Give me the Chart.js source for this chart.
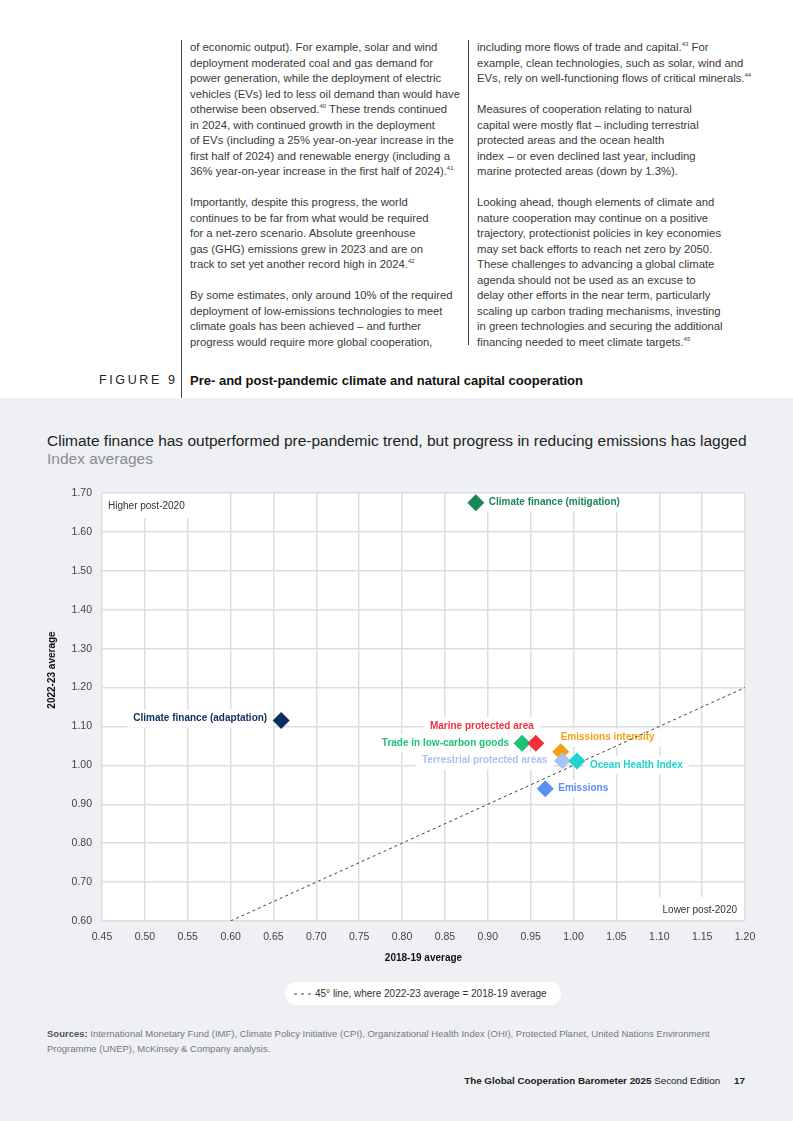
<!DOCTYPE html>
<html><head><meta charset="utf-8">
<script src="https://cdn.jsdelivr.net/npm/chart.js@4/dist/chart.umd.min.js"></script>
<style>
html,body{margin:0;padding:0;}
body{width:793px;height:1121px;position:relative;background:#fff;font-family:"Liberation Sans",Arial,sans-serif;color:#333;overflow:hidden;}
.gray{position:absolute;left:0;top:398px;width:793px;height:723px;background:#eef0f3;}
.vline{position:absolute;width:1px;background:#444;}
.col{position:absolute;top:40px;font-size:11.3px;line-height:15.5px;color:#3a3a3a;white-space:nowrap;}
.col sup{font-size:6px;line-height:0;vertical-align:baseline;position:relative;top:-5px;}
.fig{position:absolute;top:373px;left:99px;font-size:12.5px;letter-spacing:2.6px;color:#222;white-space:nowrap;}
.figt{position:absolute;top:373px;left:190px;font-size:13px;font-weight:bold;color:#111;white-space:nowrap;}
.title{position:absolute;left:47px;top:432px;font-size:15.5px;line-height:18px;color:#222;white-space:nowrap;}
.title .sub{color:#8a8c90;}
#wrap{position:absolute;left:0;top:470px;width:793px;height:510px;}
.legend{position:absolute;left:285px;top:982px;width:276px;height:23px;background:#fff;border-radius:12px;font-size:10px;color:#333;line-height:23px;white-space:nowrap;}
.legend svg{vertical-align:middle;margin:0 4px 0 9px;}
.src{position:absolute;left:47px;top:1026px;font-size:9.5px;line-height:15px;color:#76787d;white-space:nowrap;}
.src b{color:#555;}
.foot{position:absolute;right:48px;top:1075px;font-size:9.8px;color:#222;white-space:nowrap;}
.foot .n{margin-left:14px;font-weight:bold;}
</style></head>
<body>
<div class="gray"></div>
<div class="vline" style="left:181px;top:40px;height:358px;"></div>
<div class="vline" style="left:468px;top:40px;height:305px;"></div>
<div class="col" style="left:190px;">
of economic output). For example, solar and wind<br>
deployment moderated coal and gas demand for<br>
power generation, while the deployment of electric<br>
vehicles (EVs) led to less oil demand than would have<br>
otherwise been observed.<sup>40</sup> These trends continued<br>
in 2024, with continued growth in the deployment<br>
of EVs (including a 25% year-on-year increase in the<br>
first half of 2024) and renewable energy (including a<br>
36% year-on-year increase in the first half of 2024).<sup>41</sup><br>
<br>
Importantly, despite this progress, the world<br>
continues to be far from what would be required<br>
for a net-zero scenario. Absolute greenhouse<br>
gas (GHG) emissions grew in 2023 and are on<br>
track to set yet another record high in 2024.<sup>42</sup><br>
<br>
By some estimates, only around 10% of the required<br>
deployment of low-emissions technologies to meet<br>
climate goals has been achieved – and further<br>
progress would require more global cooperation,
</div>
<div class="col" style="left:477px;">
including more flows of trade and capital.<sup>43</sup> For<br>
example, clean technologies, such as solar, wind and<br>
EVs, rely on well-functioning flows of critical minerals.<sup>44</sup><br>
<br>
Measures of cooperation relating to natural<br>
capital were mostly flat – including terrestrial<br>
protected areas and the ocean health<br>
index – or even declined last year, including<br>
marine protected areas (down by 1.3%).<br>
<br>
Looking ahead, though elements of climate and<br>
nature cooperation may continue on a positive<br>
trajectory, protectionist policies in key economies<br>
may set back efforts to reach net zero by 2050.<br>
These challenges to advancing a global climate<br>
agenda should not be used as an excuse to<br>
delay other efforts in the near term, particularly<br>
scaling up carbon trading mechanisms, investing<br>
in green technologies and securing the additional<br>
financing needed to meet climate targets.<sup>45</sup>
</div>
<div class="fig">FIGURE 9</div>
<div class="figt">Pre- and post-pandemic climate and natural capital cooperation</div>
<div class="title">Climate finance has outperformed pre-pandemic trend, but progress in reducing emissions has lagged<br><span class="sub">Index averages</span></div>
<div id="wrap"><canvas id="c" width="793" height="510"></canvas></div>
<div class="legend"><svg width="17" height="4"><line x1="0" y1="2" x2="17" y2="2" stroke="#444" stroke-width="1.2" stroke-dasharray="3,4"/></svg>45° line, where 2022-23 average = 2018-19 average</div>
<div class="src"><b>Sources:</b> International Monetary Fund (IMF), Climate Policy Initiative (CPI), Organizational Health Index (OHI), Protected Planet, United Nations Environment<br>Programme (UNEP), McKinsey &amp; Company analysis.</div>
<div class="foot"><b>The Global Cooperation Barometer 2025</b> Second Edition<span class="n">17</span></div>
<script>
// ---- data ----
const names = ["Climate finance (mitigation)","Climate finance (adaptation)","Trade in low-carbon goods","Marine protected area","Emissions intensity","Terrestrial protected areas","Ocean Health Index","Emissions"];
const avg2018_19 = [0.886, 0.659, 0.940, 0.956, 0.985, 0.987, 1.004, 0.967];
const avg2022_23 = [1.675, 1.115, 1.057, 1.057, 1.035, 1.012, 1.011, 0.940];
const colors = ["#1b8755","#0c2e5c","#1fc178","#f0313e","#f5a014","#a8c3f3","#1ed4cf","#5a8ef2"];
const xTickValues = [0.45,0.50,0.55,0.60,0.65,0.70,0.75,0.80,0.85,0.90,0.95,1.00,1.05,1.10,1.15,1.20];
const yTickValues = [0.60,0.70,0.80,0.90,1.00,1.10,1.20,1.30,1.40,1.50,1.60,1.70];
const lineX = [0.60, 1.20];
const lineY = [0.60, 1.20];
// label placement relative to marker: side, dx, dy (px)
const labelPlace = [
  {side:"right",dx:13,dy:0},{side:"left",dx:-14,dy:-2},{side:"left",dx:-13,dy:0},{side:"left",dx:-2,dy:-17},
  {side:"right",dx:0,dy:-14},{side:"left",dx:-15,dy:0},{side:"right",dx:13,dy:4},{side:"right",dx:13,dy:0}
];
const FONT = '"Liberation Sans", Arial, sans-serif';

const labelPlugin = {
  id:'labels',
  beforeDatasetsDraw(chart){
    const {ctx, scales:{x,y}, chartArea:ca} = chart;
    ctx.save();
    ctx.textBaseline='middle';
    ctx.font = '10px '+FONT;
    ctx.fillStyle='#fff';
    let w1 = ctx.measureText('Higher post-2020').width;
    ctx.fillRect(ca.left+1, ca.top+1, w1+18, 24);
    let w2 = ctx.measureText('Lower post-2020').width;
    ctx.fillRect(ca.right-w2-14, ca.bottom-24, w2+13, 23);
    ctx.fillStyle='#333';
    ctx.fillText('Higher post-2020', ca.left+6, ca.top+13);
    ctx.fillText('Lower post-2020', ca.right-w2-8, ca.bottom-10.5);
    ctx.font = 'bold 10px '+FONT;
    const pos = names.map((n,i)=>{
      const px = x.getPixelForValue(avg2018_19[i]), py = y.getPixelForValue(avg2022_23[i]);
      const p = labelPlace[i];
      const w = ctx.measureText(n).width;
      const tx = p.side==='right' ? px+p.dx : px+p.dx-w;
      return {tx, ty:py+p.dy, w};
    });
    ctx.fillStyle='#fff';
    pos.forEach(p=>ctx.fillRect(p.tx-6, p.ty-9, p.w+12, 18));
    pos.forEach((p,i)=>{ctx.fillStyle=colors[i]; ctx.fillText(names[i], p.tx, p.ty);});
    ctx.restore();
  },
  afterDraw(chart){
    const {ctx, chartArea:ca} = chart;
    ctx.save();
    ctx.font = 'bold 10px '+FONT;
    ctx.fillStyle='#111';
    ctx.textAlign='center';
    ctx.textBaseline='middle';
    ctx.fillText('2018-19 average', (ca.left+ca.right)/2, 488);
    ctx.translate(52, 200);
    ctx.rotate(-Math.PI/2);
    ctx.fillText('2022-23 average', 0, 0);
    ctx.restore();
  }
};

new Chart(document.getElementById('c'), {
  type:'scatter',
  data:{datasets:[
    {data: names.map((n,i)=>({x:avg2018_19[i], y:avg2022_23[i]})),
     pointStyle:'rectRot', pointRadius:8.5, pointHoverRadius:8.5, borderWidth:0,
     pointBackgroundColor: colors, pointBorderColor: colors, order:0},
    {type:'line', data: lineX.map((v,i)=>({x:v, y:lineY[i]})), borderColor:'#444', borderWidth:1,
     borderDash:[3,3], pointRadius:0, fill:false, order:1}
  ]},
  options:{
    responsive:false, animation:false, events:[],
    layout:{padding:{left:42, right:48, top:23, bottom:29}},
    plugins:{legend:{display:false}, tooltip:{enabled:false}},
    scales:{
      x:{type:'linear', min:0.45, max:1.20,
        afterBuildTicks:s=>{s.ticks = xTickValues.map(v=>({value:v}));},
        afterFit:s=>{s.height=30; s.paddingLeft=0; s.paddingRight=0;},
        grid:{color:'#dcdde1', lineWidth:1.5, drawTicks:false},
        border:{display:false},
        ticks:{padding:10, maxRotation:0, autoSkip:false, color:'#444', font:{family:FONT, size:10.5}, callback:v=>v.toFixed(2)}
      },
      y:{type:'linear', min:0.60, max:1.70,
        afterBuildTicks:s=>{s.ticks = yTickValues.map(v=>({value:v}));},
        afterFit:s=>{s.width=60; s.paddingTop=0; s.paddingBottom=0;},
        grid:{color:'#dcdde1', lineWidth:1.5, drawTicks:false},
        border:{display:false},
        ticks:{padding:10, autoSkip:false, color:'#444', font:{family:FONT, size:10.5}, callback:v=>v.toFixed(2)}
      }
    }
  },
  plugins:[labelPlugin, {id:'bg', beforeDraw(chart){const {ctx,chartArea:ca}=chart; ctx.save(); ctx.fillStyle='#fff'; ctx.fillRect(ca.left,ca.top,ca.right-ca.left,ca.bottom-ca.top); ctx.restore();}}]
});
</script>
</body></html>
